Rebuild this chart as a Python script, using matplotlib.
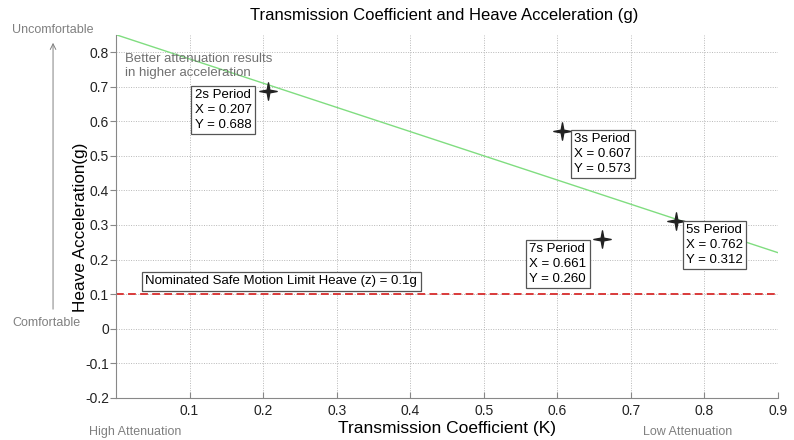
import matplotlib
matplotlib.use("Agg")
import matplotlib.pyplot as plt
from matplotlib.path import Path

plt.rcParams['font.family'] = ['Liberation Sans', 'DejaVu Sans']

# data tips
periods = ['2s', '3s', '5s', '7s']
k_vals = [0.207, 0.607, 0.762, 0.661]
heave = [0.688, 0.573, 0.312, 0.260]

# trend line end points
trend_k = [0.0, 0.9]
trend_heave = [0.85, 0.22]

safe_limit = 0.1
safe_label = 'Nominated Safe Motion Limit Heave (z) = 0.1g'

# where each data tip box sits (text top-left, data units)
tip_pos = {'2s': (0.107, 0.692), '3s': (0.623, 0.565),
           '5s': (0.775, 0.302), '7s': (0.562, 0.247)}

fig = plt.figure(figsize=(7.94, 4.40), dpi=100)
ax = fig.add_axes([0.1461, 0.0955, 0.8337, 0.8256])

# trend line and limit line
ax.plot(trend_k, trend_heave, color='#80dd80', lw=1.0, zorder=2)
ax.axhline(safe_limit, color='#d93a3a', lw=1.4, ls=(0, (4, 2.2)), zorder=2)

# thin four pointed star like the MATLAB data tip marker
star = Path.unit_regular_star(4, 0.22)
ax.plot(k_vals, heave, ls='none', marker=star, ms=12.5, color='#222222',
        mec='#222222', zorder=4)

box = dict(boxstyle='square,pad=0.25', fc='white', ec='#555555', lw=0.9)
for p, k, h in zip(periods, k_vals, heave):
    tx, ty = tip_pos[p]
    ax.text(tx, ty, '%s Period\nX = %.3f\nY = %.3f' % (p, k, h),
            fontsize=9.5, ha='left', va='top', linespacing=1.3,
            bbox=box, zorder=5)

ax.text(0.040, 0.137, safe_label, fontsize=9.5, ha='left', va='center',
        bbox=box, zorder=5)

ax.text(0.012, 0.797, 'Better attenuation results\nin higher acceleration',
        fontsize=9.5, color='#707070', ha='left', va='top', linespacing=1.25)

ax.set_xlim(0, 0.9)
ax.set_ylim(-0.2, 0.85)
ax.set_xticks([0.1, 0.2, 0.3, 0.4, 0.5, 0.6, 0.7, 0.8, 0.9])
ax.set_yticks([-0.2, -0.1, 0, 0.1, 0.2, 0.3, 0.4, 0.5, 0.6, 0.7, 0.8])
ax.set_xticklabels(['0.1', '0.2', '0.3', '0.4', '0.5', '0.6', '0.7', '0.8', '0.9'])
ax.set_yticklabels(['-0.2', '-0.1', '0', '0.1', '0.2', '0.3', '0.4', '0.5',
                    '0.6', '0.7', '0.8'])
ax.grid(True, ls=(0, (1, 1.5)), color='#b8b8b8', lw=0.7)
ax.set_axisbelow(True)

for s in ['top', 'right']:
    ax.spines[s].set_visible(False)
for s in ['left', 'bottom']:
    ax.spines[s].set_color('#888888')
ax.tick_params(axis='x', direction='in', length=4, pad=4, labelsize=10,
               color='#888888', labelcolor='#222222')
ax.tick_params(axis='y', direction='out', length=4, pad=1, labelsize=10,
               color='#888888', labelcolor='#222222')

ax.set_xlabel('Transmission Coefficient (K)', fontsize=12.5)
ax.xaxis.set_label_coords(0.5, -0.062)
ax.set_ylabel('Heave Acceleration(g)', fontsize=12.3)
ax.yaxis.set_label_coords(-0.043, 0.469)
fig.text(0.560, 0.964, 'Transmission Coefficient and Heave Acceleration (g)',
         fontsize=12, ha='center', va='center')

# comfort scale on the left, attenuation notes below
gray = '#808080'
fig.text(0.066, 0.932, 'Uncomfortable', fontsize=9, color=gray,
         ha='center', va='center')
fig.text(0.059, 0.266, 'Comfortable', fontsize=9, color=gray,
         ha='center', va='center')
fig.text(0.17, 0.018, 'High Attenuation', fontsize=9, color=gray,
         ha='center', va='center')
fig.text(0.866, 0.018, 'Low Attenuation', fontsize=9, color=gray,
         ha='center', va='center')
ax.annotate('', xy=(0.0668, 0.909), xytext=(0.0668, 0.291),
            xycoords='figure fraction', textcoords='figure fraction',
            arrowprops=dict(arrowstyle='->', color=gray, lw=0.7))

fig.savefig('out.png', dpi=100)
